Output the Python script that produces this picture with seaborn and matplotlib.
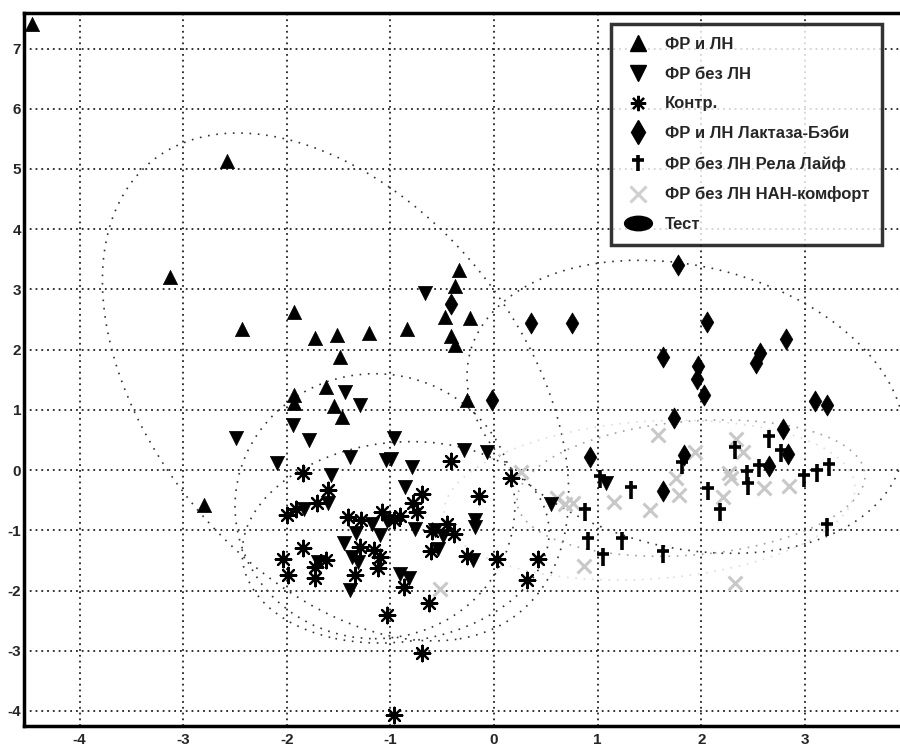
import numpy as np
import pandas as pd
import matplotlib
matplotlib.use("Agg")
import matplotlib.pyplot as plt
import seaborn as sns
from matplotlib.patches import Ellipse
from matplotlib.path import Path
from matplotlib.lines import Line2D
from matplotlib.ticker import MultipleLocator

# группы
labels = ["ФР и ЛН", "ФР без ЛН", "Контр.", "ФР и ЛН Лактаза-Бэби",
          "ФР без ЛН Рела Лайф", "ФР без ЛН НАН-комфорт", "Тест"]

up_x = [-4.46, -2.58, -3.13, -2.43, -1.93, -1.73, -1.52, -1.49, -1.21, -0.84, -0.475, -0.34,
        -0.375, -0.23, -0.42, -0.38, -0.26, -1.62, -1.93, -1.93, -1.54, -1.47, -2.80]
up_y = [7.41, 5.13, 3.21, 2.35, 2.63, 2.19, 2.24, 1.88, 2.27, 2.34, 2.55, 3.32,
        3.05, 2.52, 2.22, 2.08, 1.16, 1.38, 1.24, 1.11, 1.07, 0.885, -0.58]

down_x = [-0.67, -2.49, -1.44, -1.29, -1.94, -1.79, -1.39, -0.97, -1.04, -0.99, -2.09, -1.57,
          -0.79, -0.86, -1.60, -1.83, -1.18, -1.10, -1.33, -1.45, -1.37, -1.31, -1.70, -1.39,
          -0.76, -0.91, -0.82, -0.57, -0.49, -0.54, -0.29, -0.065, -0.18, -0.18, -0.20, 0.55,
          1.08, -1.03]
down_y = [2.94, 0.53, 1.30, 1.08, 0.75, 0.50, 0.22, 0.53, 0.17, 0.19, 0.11, -0.08,
          0.05, -0.28, -0.55, -0.64, -0.90, -1.08, -1.05, -1.21, -1.44, -1.52, -1.52, -1.99,
          -0.98, -1.72, -1.80, -1.0, -1.09, -1.31, 0.34, 0.30, -0.83, -0.94, -1.50, -0.57,
          -0.22, -0.85]

contr_x = [-1.84, -1.60, -2.0, -1.91, -1.71, -1.41, -1.28, -1.08, -0.97, -0.91, -0.70, -0.78,
           -0.74, -1.29, -1.16, -1.10, -1.12, -1.84, -2.04, -1.99, -1.73, -1.73, -1.62, -1.34,
           -0.87, -1.03, -0.63, -0.70, -0.97, -0.61, -0.60, -0.42, -0.45, -0.39, -0.26, 0.03,
           -0.15, 0.16, 0.42, 0.32]
contr_y = [-0.05, -0.33, -0.75, -0.64, -0.55, -0.78, -0.83, -0.70, -0.83, -0.76, -0.39, -0.55,
           -0.69, -1.27, -1.33, -1.44, -1.63, -1.30, -1.47, -1.74, -1.61, -1.80, -1.50, -1.74,
           -1.94, -2.41, -2.20, -3.04, -4.07, -1.35, -1.02, 0.15, -0.89, -1.06, -1.43, -1.47,
           -0.43, -0.14, -1.47, -1.83]

lact_x = [1.77, 0.36, 0.75, 2.05, 2.82, 2.57, 2.53, 1.63, 1.97, 1.96, 2.03, 3.10, 3.21,
          1.74, 2.79, 1.83, 2.84, 2.65, 1.63, 0.93, -0.02, -0.42]
lact_y = [3.41, 2.44, 2.44, 2.46, 2.17, 1.94, 1.77, 1.87, 1.72, 1.52, 1.25, 1.15, 1.08,
          0.86, 0.68, 0.25, 0.27, 0.07, -0.35, 0.21, 1.17, 2.75]

rela_x = [1.02, 1.32, 0.88, 0.91, 1.05, 1.23, 1.63, 1.81, 2.06, 2.18, 2.32, 2.44, 2.45,
          2.56, 2.65, 2.77, 2.99, 3.12, 3.23, 3.21]
rela_y = [-0.15, -0.33, -0.70, -1.17, -1.45, -1.17, -1.40, 0.08, -0.35, -0.69, 0.34, -0.06, -0.27,
          0.03, 0.52, 0.28, -0.14, -0.05, 0.05, -0.94]

nan_x = [1.58, 1.94, 0.26, 0.61, 0.68, 0.76, 1.16, 1.50, 1.76, 1.78, 2.33, 2.40, 2.27,
         2.29, 2.21, 2.60, 2.85, 0.87, 2.32, -0.52]
nan_y = [0.58, 0.30, -0.03, -0.47, -0.57, -0.54, -0.53, -0.66, -0.14, -0.41, 0.52, 0.30, -0.05,
         -0.13, -0.45, -0.30, -0.26, -1.59, -1.87, -1.98]

# эллипсы: центр x, центр y, ширина, высота, угол, цвет
ell_cx = [-1.53, -1.15, -0.95, 1.85, 1.9, 1.5]
ell_cy = [1.38, -0.6, -1.2, 1.05, -0.3, -0.5]
ell_w = [3.96, 2.7, 2.9, 3.94, 3.4, 4.0]
ell_h = [8.7, 4.4, 3.4, 5.1, 2.2, 2.6]
ell_a = [16, 0, -20, 28, 12, 10]
ell_c = ["#333333", "#333333", "#333333", "#333333", "#a0a0a0", "#dddddd"]

# маркер-крестик (как "†")
dagger = Path([(0, -1), (0, 1), (-0.7, 0.35), (0.7, 0.35)],
              [Path.MOVETO, Path.LINETO, Path.MOVETO, Path.LINETO])
test_marker = Path.unit_circle().transformed(matplotlib.transforms.Affine2D().scale(1.0, 0.52))

sns.set_style("white")
plt.rcParams['font.family'] = ['Liberation Sans', 'DejaVu Sans']
plt.rcParams['font.weight'] = 'bold'
plt.rcParams['axes.unicode_minus'] = False

fig = plt.figure(figsize=(9, 7.49), dpi=100)
ax = fig.add_axes([24 / 900, 1 - 726 / 749, 1.0 - 24 / 900 + 0.005, (726 - 13) / 749])

for cx, cy, w, h, a, c in zip(ell_cx, ell_cy, ell_w, ell_h, ell_a, ell_c):
    ax.add_patch(Ellipse((cx, cy), w, h, angle=a, fill=False, edgecolor=c,
                         linewidth=1.2, linestyle=(0, (1, 4)), zorder=1))

groups = [
    (nan_x, nan_y, "x", "#c8c8c8", 100, 2.2),
    (up_x, up_y, "^", "black", 105, 0.5),
    (down_x, down_y, "v", "black", 105, 0.5),
    (contr_x, contr_y, (8, 2, 0), "black", 125, 1.6),
    (lact_x, lact_y, "d", "black", 115, 0.5),
    (rela_x, rela_y, dagger, "black", 150, 2.6),
]
for gx, gy, m, c, s, lw in groups:
    df = pd.DataFrame({"x": gx, "y": gy})
    sns.scatterplot(data=df, x="x", y="y", marker=m, color=c, s=s, linewidth=lw,
                    edgecolor=c, ax=ax, zorder=3, legend=False)

ax.set_xlim(-4.536, 3.96)
ax.set_ylim(-4.25, 7.59)
ax.xaxis.set_major_locator(MultipleLocator(1))
ax.yaxis.set_major_locator(MultipleLocator(1))
ax.xaxis.set_minor_locator(MultipleLocator(0.25))
ax.yaxis.set_minor_locator(MultipleLocator(0.25))
ax.grid(True, which="major", color="#222222", linestyle=(0, (1, 2.2)), linewidth=1.3)
ax.set_axisbelow(True)
ax.tick_params(which="major", direction="in", length=4, width=1, labelsize=11, pad=2)
ax.tick_params(axis="x", which="major", pad=5)
ax.tick_params(which="minor", direction="in", length=3, width=0.8)
ax.set_xlabel("")
ax.set_ylabel("")
for side in ["left", "top", "bottom"]:
    ax.spines[side].set_linewidth(2.5)
    ax.spines[side].set_color("black")
ax.spines["right"].set_visible(False)

handles = [
    Line2D([], [], linestyle="none", marker="^", color="black", markersize=11),
    Line2D([], [], linestyle="none", marker="v", color="black", markersize=11),
    Line2D([], [], linestyle="none", marker=(8, 2, 0), color="black", markersize=11, markeredgewidth=1.6),
    Line2D([], [], linestyle="none", marker="d", color="black", markersize=12),
    Line2D([], [], linestyle="none", marker=dagger, color="black", markersize=12, markeredgewidth=2.6),
    Line2D([], [], linestyle="none", marker="x", color="#d0d0d0", markersize=11, markeredgewidth=2.2),
    Line2D([], [], linestyle="none", marker=test_marker, color="black", markersize=20),
]
leg = ax.legend(handles, labels, loc="upper right", bbox_to_anchor=(0.975, 0.985),
                borderaxespad=0, frameon=True, fancybox=False, fontsize=12,
                handletextpad=0.8, labelspacing=0.88, borderpad=0.8, handlelength=1.6)
leg.get_frame().set_edgecolor("black")
leg.get_frame().set_linewidth(2.5)
leg.set_zorder(5)

plt.savefig("out.png", dpi=100)
